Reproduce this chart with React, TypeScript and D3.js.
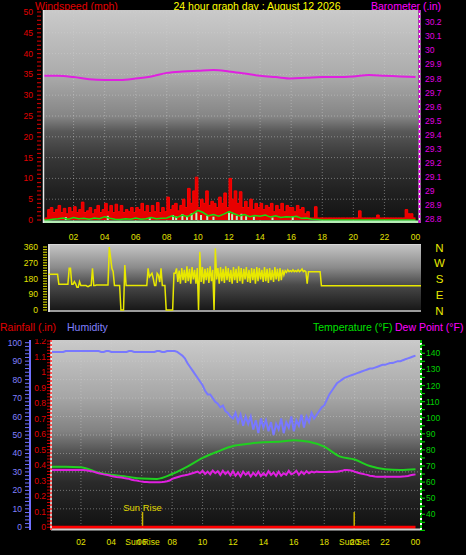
import React from "react";
import * as d3 from "d3";

const FONT = "'Liberation Sans', Arial, sans-serif";

// ---------- DATA ----------
const xTickHours = [2, 4, 6, 8, 10, 12, 14, 16, 18, 20, 22, 24];
const xTickLabels = ["02", "04", "06", "08", "10", "12", "14", "16", "18", "20", "22", "00"];

const windTicks = [0, 5, 10, 15, 20, 25, 30, 35, 40, 45, 50];
const baroTicks = [28.8, 28.9, 29.0, 29.1, 29.2, 29.3, 29.4, 29.5, 29.6, 29.7, 29.8, 29.9, 30.0, 30.1, 30.2];
const dirTicks = [0, 90, 180, 270, 360];
const compassLabels = ["N", "W", "S", "E", "N"];
const humTicks = [0, 10, 20, 30, 40, 50, 60, 70, 80, 90, 100];
const rainTicks = [0, 0.1, 0.2, 0.3, 0.4, 0.5, 0.6, 0.7, 0.8, 0.9, 1.0, 1.1, 1.2];
const tempTicks = [40, 50, 60, 70, 80, 90, 100, 110, 120, 130, 140];

// hourly barometer (inHg), hours 0..24
const barometer = [29.82, 29.82, 29.81, 29.795, 29.79, 29.79, 29.8, 29.815, 29.84, 29.85, 29.855, 29.86, 29.85,
  29.835, 29.82, 29.81, 29.8, 29.805, 29.81, 29.81, 29.815, 29.825, 29.82, 29.815, 29.81];

// wind speed (mph), every 10 minutes
const windSpeed = [
  0, 0.5, 2.5, 3, 1.8, 2.5,
  3.5, 1.8, 2.8, 1.5, 3, 2,
  3.2, 1.8, 2.5, 4.3, 1.8, 2.2,
  3, 1.5, 2.5, 3.5, 1.8, 2.5,
  4, 2, 3.5, 1.8, 3.8, 2,
  3.5, 1.8, 2.5, 2, 3, 1.8,
  3, 2.5, 4, 2, 3.5, 1.8,
  3.5, 2, 4.2, 1.8, 3, 2,
  5.5, 2.5, 3.5, 4, 2.2, 3.5,
  5, 3, 7.6, 4, 7, 10.3,
  3, 5, 4, 7, 3.5, 4.5,
  4, 3, 5.5, 4, 6.5, 3,
  10, 5, 7, 4, 6.8, 3,
  4.5, 3, 5, 2.5, 4, 3,
  4, 2.5, 3.5, 3, 4, 2,
  3.5, 2.5, 4, 2, 3.5, 3,
  3, 2, 3.5, 2.5, 3, 1.5,
  2, 0.5, 0.5, 3.2, 0.5, 0.5,
  0.5, 0.5, 0.5, 0.5, 0.5, 0.5,
  0.5, 0.5, 0.5, 0.5, 0.5, 0.5,
  0.5, 0.5, 2.2, 0.5, 0.5, 0.5,
  0.5, 0.5, 0.5, 1.2, 0.5, 0.5,
  0.5, 0.5, 0.5, 0.5, 0.5, 0.5,
  0.5, 0.5, 2.5, 1.5, 1.5, 0.5,
];

// average wind (mph), every 20 minutes
const windAvg = [
  0, 0, 0.2, 0.3, 0.5, 0.2, 0.6, 0.3, 0.4, 0.2, 0.5, 0.3,
  0.8, 0.4, 0.2, 0.1, 0.3, 0.2, 0.5, 0.2, 0.3, 0.6, 0.3, 0.4,
  0.5, 1.0, 0.6, 1.2, 0.8, 1.5, 2.3, 1.8, 1.0, 1.3, 0.9, 1.4,
  2.0, 1.5, 1.0, 1.3, 0.8, 1.1, 0.9, 1.2, 0.7, 1.0, 0.6, 0.8,
  0.7, 0.9, 0.4, 0.5, 0.2, 0.1, 0, 0, 0, 0, 0, 0,
  0, 0, 0, 0, 0, 0, 0, 0, 0, 0, 0, 0, 0,
];

// pale gust markers
const paleHours = [1.5, 4.2, 6.9, 8.4, 8.6, 9.0, 9.3, 9.6, 9.9, 10.2, 10.6, 11.0, 12.0, 12.2, 12.5, 12.8, 13.1, 13.6, 14.8, 16.1];
const paleVals = [0.7, 1.0, 0.6, 1.2, 0.8, 1.4, 1.0, 1.6, 1.8, 1.2, 1.0, 0.8, 1.8, 1.4, 1.0, 1.5, 0.9, 0.8, 0.6, 0.9];

// wind direction (deg), every 5 minutes
const windDir = [
  204, 204, 204, 204, 204, 204, 204, 204, 147, 147, 147, 147,
  147, 147, 147, 147, 238, 238, 147, 147, 162, 150, 130, 130,
  162, 140, 140, 140, 140, 140, 135, 135, 140, 140, 238, 140,
  140, 143, 143, 143, 143, 143, 143, 143, 143, 143, 143, 360,
  300, 238, 219, 140, 140, 140, 140, 140, 0, 0, 0, 257,
  140, 140, 140, 140, 140, 140, 140, 140, 140, 140, 140, 140,
  140, 140, 140, 140, 140, 238, 190, 200, 210, 180, 140, 140,
  210, 200, 160, 238, 140, 140, 140, 0, 0, 0, 0, 0,
  0, 210, 210, 238, 160, 225, 150, 240, 170, 230, 155, 250,
  165, 235, 150, 245, 175, 230, 150, 240, 0, 333, 160, 245,
  150, 235, 170, 240, 155, 250, 165, 230, 0, 352, 175, 240,
  150, 245, 165, 235, 155, 250, 170, 240, 160, 230, 150, 245,
  170, 235, 155, 250, 165, 240, 150, 235, 175, 245, 160, 230,
  155, 240, 170, 235, 150, 245, 165, 240, 175, 230, 160, 245,
  165, 235, 155, 240, 170, 230, 160, 245, 175, 235, 165, 240,
  170, 230, 200, 225, 215, 230, 219, 225, 219, 230, 219, 225,
  219, 230, 219, 225, 235, 219, 225, 219, 150, 219, 219, 219,
  219, 219, 219, 219, 219, 219, 219, 139, 139, 139, 139, 139,
  139, 139, 139, 139, 139, 139, 139, 139, 139, 139, 139, 139,
  139, 139, 139, 139, 139, 139, 139, 139, 139, 139, 139, 139,
  139, 139, 139, 139, 139, 139, 139, 139, 139, 139, 139, 139,
  139, 139, 139, 139, 139, 139, 139, 139, 139, 139, 139, 139,
  139, 139, 139, 139, 139, 139, 139, 139, 139, 139, 139, 139,
  139, 139, 139, 139, 139, 139, 139, 139, 139, 139, 139, 139,
  139,
];

// humidity (%), every 10 minutes
const humidity = [
  95, 95, 95, 95, 95, 95,
  95.5, 95.5, 95.5, 95.5, 95.5, 95.5,
  95.5, 95.5, 95.5, 95.5, 95.5, 95.5,
  95.5, 95.5, 95, 95, 95.5, 95.5,
  95, 95, 95, 95, 95, 95,
  95, 95.5, 95.5, 95, 95, 95,
  95, 95, 95, 95, 95, 95,
  95.5, 95.5, 95, 95, 95.5, 95.5,
  95.5, 95.5, 95, 94, 93, 91.5,
  89, 87, 85, 83, 81, 79,
  77, 74, 72, 72, 70, 68,
  67, 65, 66, 63, 62, 60,
  59, 62, 57, 61, 55, 60,
  56, 60, 53, 58, 51, 59,
  54, 58, 52, 57, 50, 56,
  53, 59, 51, 57, 54, 60,
  52, 58, 55, 61, 54, 60,
  57, 62, 59, 61, 63, 65,
  66, 69, 72, 74, 76, 78,
  79, 80, 81, 81.5, 82, 82.5,
  83, 83.5, 84, 84.5, 85, 85.5,
  86, 86, 86.5, 87, 87.5, 88,
  88, 88.5, 89, 89, 89.5, 90,
  90, 90.5, 91, 91.5, 92, 92.5,
  93,
];

// temperature (F), hourly
const temperature = [69.6, 69.6, 69.3, 66.3, 64.5, 63.4, 62.2, 62, 65, 69.6, 75, 79, 82.4, 83.8, 84.8, 85, 86, 85,
  82, 76, 74, 70, 68, 67.5, 68];

// dew point (F), every 10 minutes
const dewPoint = [
  67.5, 67.5, 67.5, 67.5, 67.5, 67.5,
  67.5, 67.5, 67.5, 67.5, 67.5, 67.5,
  67.5, 67.5, 67.3, 67, 66.8, 66.5,
  66, 65.5, 65.2, 64.8, 64.5, 64.2,
  63.8, 63.5, 63.2, 63, 62.8, 62.5,
  62.3, 62, 61.5, 61.2, 61, 60.6,
  60.3, 60.1, 60, 59.9, 59.9, 59.9,
  59.9, 59.9, 60, 60.2, 60.5, 61,
  62, 62.5, 63, 63.5, 64, 64.2,
  64.5, 65, 65.5, 66, 66.5, 65.5,
  67, 65, 66.5, 64.8, 67.2, 65.5,
  66.8, 64.5, 67, 65, 66.5, 64.2,
  66.8, 64, 66, 63.5, 66.5, 64.5,
  66, 63.5, 65.8, 64, 66.5, 63.8,
  65.5, 64, 66.8, 64.5, 66, 63.8,
  66.5, 64, 65.5, 64.5, 67, 64.8,
  65.5, 67, 64.5, 66.5, 65, 66.8,
  65.5, 66.5, 66, 66.5, 66.3, 66.3,
  66.3, 66.3, 66.5, 66.3, 66.5, 66.5,
  66.8, 67, 67.5, 67.5, 67.3, 67,
  66.5, 66, 65.5, 65.2, 64.8, 64.5,
  64, 63.8, 63.5, 63.4, 63.4, 63.4,
  63.4, 63.4, 63.4, 63.4, 63.4, 63.4,
  63.4, 63.5, 63.6, 63.8, 64.2, 64.5,
  64.8,
];

// rainfall (in), hours 0..24
const rainHours = [0, 24];
const rainfall = [0, 0];

const sunRise = 6.05;
const sunSet = 19.97;

// ---------- SCALES ----------
const xTop = d3.scaleLinear().domain([0, 24]).range([42.5, 415.5]);
const yWind = d3.scaleLinear().domain([0, 50]).range([220, 12]);
const yBaro = d3.scaleLinear().domain([28.8, 30.2]).range([219, 22.3]);

const xMid = d3.scaleLinear().domain([0, 24]).range([48.5, 421]);
const yDir = d3.scaleLinear().domain([0, 360]).range([310, 247]);

const xBot = d3.scaleLinear().domain([0, 24]).range([50.5, 415.5]);
const yHum = d3.scaleLinear().domain([0, 100]).range([527.3, 342.7]);
const yRain = d3.scaleLinear().domain([0, 1.2]).range([527.3, 341]);
const yTemp = d3.scaleLinear().domain([40, 140]).range([514.3, 353.3]);

const fmt = (v: number) => String(Math.round(v * 10) / 10);

export default function App() {
  const baroLine = d3.line<number>().x((_, i) => xTop(i)).y((d) => yBaro(d)).curve(d3.curveMonotoneX)(barometer) || "";
  const windExt = [...windSpeed, windSpeed[windSpeed.length - 1]];
  const windArea = d3
    .area<number>()
    .x((_, i) => xTop(i / 6))
    .y0(yWind(0))
    .y1((d) => yWind(d))
    .curve(d3.curveStepAfter)(windExt) || "";
  const windLine = d3.line<number>().x((_, i) => xTop(i / 6)).y((d) => yWind(d)).curve(d3.curveStepAfter)(windExt) || "";
  const avgLine = d3.line<number>().x((_, i) => xTop(i / 3)).y((d) => yWind(d))(windAvg) || "";
  const dirLine = d3.line<number>().x((_, i) => xMid(i / 12)).y((d) => yDir(d))(windDir) || "";
  const humLine = d3.line<number>().x((_, i) => xBot(i / 6)).y((d) => yHum(d))(humidity) || "";
  const tempLine = d3.line<number>().x((_, i) => xBot(i)).y((d) => yTemp(d)).curve(d3.curveMonotoneX)(temperature) || "";
  const dewLine = d3.line<number>().x((_, i) => xBot(i / 6)).y((d) => yTemp(d))(dewPoint) || "";
  const rainLine = d3.line<number>().x((_, i) => xBot(rainHours[i])).y((d) => yRain(d))(rainfall) || "";

  const gridHours = d3.range(2, 24, 2);
  const windMinor = d3.range(0, 51, 1);
  const dirMinor = d3.range(0, 361, 15);
  const humMinor = d3.range(0, 101, 2);
  const rainMinor = d3.range(0, 1.201, 0.02);
  const tempMinor = d3.range(30, 150, 5);

  return (
    <svg width={466} height={555} style={{ display: "block", position: "absolute", left: 0, top: 0, background: "#000" }}
      fontFamily={FONT}>
      <defs>
        <linearGradient id="gTop" x1="0" y1="0" x2="0" y2="1">
          <stop offset="0" stopColor="#cacaca" />
          <stop offset="0.3" stopColor="#acacac" />
          <stop offset="0.5" stopColor="#858585" />
          <stop offset="0.57" stopColor="#585858" />
          <stop offset="0.7" stopColor="#363636" />
          <stop offset="0.85" stopColor="#212121" />
          <stop offset="1" stopColor="#111111" />
        </linearGradient>
        <linearGradient id="gMid" x1="0" y1="0" x2="0" y2="1">
          <stop offset="0" stopColor="#c6c6c6" />
          <stop offset="0.35" stopColor="#8a8a8a" />
          <stop offset="0.6" stopColor="#4a4a4a" />
          <stop offset="1" stopColor="#141414" />
        </linearGradient>
        <linearGradient id="gBot" x1="0" y1="0" x2="0" y2="1">
          <stop offset="0" stopColor="#cacaca" />
          <stop offset="0.3" stopColor="#a6a6a6" />
          <stop offset="0.48" stopColor="#828282" />
          <stop offset="0.6" stopColor="#4e4e4e" />
          <stop offset="0.75" stopColor="#2a2a2a" />
          <stop offset="1" stopColor="#101010" />
        </linearGradient>
        <clipPath id="clipTop"><rect x={43} y={10} width={375} height={213} /></clipPath>
        <clipPath id="clipMid"><rect x={48} y={244} width={373} height={68} /></clipPath>
        <clipPath id="clipBot"><rect x={51} y={340} width={369} height={190} /></clipPath>
        <clipPath id="clipRainLbl"><rect x={0} y={339} width={60} height={200} /></clipPath>
      </defs>

      {/* ---------- TITLES ---------- */}
      <text x={35} y={10} fontSize={10.5} fill="#e00000">Windspeed (mph)</text>
      <text x={257} y={10} fontSize={10.5} fill="#ffff00" textAnchor="middle">24 hour graph day : August 12 2026</text>
      <text x={371} y={10} fontSize={10.5} fill="#ff00ff">Barometer (.in)</text>

      {/* ---------- TOP PANEL ---------- */}
      <rect x={43} y={10} width={375} height={213} fill="url(#gTop)" />
      <g clipPath="url(#clipTop)">
        {windTicks.slice(1).map((v) => (
          <line key={"hw" + v} x1={43} x2={418} y1={yWind(v)} y2={yWind(v)} stroke="#d0d0d0" strokeOpacity={0.45} strokeDasharray="1,2" />
        ))}
        {gridHours.map((h) => (
          <line key={"vt" + h} x1={xTop(h)} x2={xTop(h)} y1={10} y2={223} stroke="#d0d0d0" strokeOpacity={0.45} strokeDasharray="1,2" />
        ))}
        <path d={baroLine} fill="none" stroke="#e020e0" strokeWidth={2} />
        <path d={windArea} fill="#e80000" />
        <path d={windLine} fill="none" stroke="#ff0000" strokeWidth={1} />
        {paleHours.map((h, i) => (
          <rect key={"pg" + i} x={xTop(h) - 1} y={yWind(paleVals[i])} width={2} height={yWind(0) - yWind(paleVals[i])} fill="#c0ecc0" />
        ))}
        <path d={avgLine} fill="none" stroke="#10e010" strokeWidth={1.5} />
        <rect x={43} y={220.5} width={375} height={3} fill="#b4ecb4" />
      </g>
      <line x1={43.5} x2={43.5} y1={10} y2={223} stroke="#e8e8e8" strokeWidth={1.5} />
      {/* left wind axis */}
      {windMinor.map((v) => (
        <line key={"wm" + v} x1={37} x2={41} y1={yWind(v)} y2={yWind(v)} stroke="#c00000" strokeWidth={1.2} />
      ))}
      {windTicks.map((v) => (
        <text key={"wl" + v} x={33} y={yWind(v) + 3} fontSize={8.5} fill="#e00000" textAnchor="end">{v}</text>
      ))}
      {/* right baro axis */}
      <line x1={419.5} x2={419.5} y1={10} y2={223} stroke="#ffffff" strokeWidth={2} />
      <line x1={419.5} x2={419.5} y1={10} y2={223} stroke="#e000e0" strokeWidth={2} strokeDasharray="3,2" />
      {baroTicks.map((v) => (
        <text key={"bl" + v} x={425} y={yBaro(v) + 3} fontSize={8.5} fill="#e000e0">{fmt(v)}</text>
      ))}
      {/* x labels top */}
      {xTickHours.map((h, i) => (
        <text key={"xt" + h} x={xTop(h)} y={240} fontSize={8.5} fill="#e0e000" textAnchor="middle">{xTickLabels[i]}</text>
      ))}

      {/* ---------- MIDDLE PANEL ---------- */}
      <rect x={48} y={244} width={373} height={68} fill="url(#gMid)" />
      <line x1={48} x2={421} y1={244.5} y2={244.5} stroke="#d8d8d8" />
      <line x1={48} x2={421} y1={311} y2={311} stroke="#c8c8c8" strokeWidth={1.5} />
      <line x1={49} x2={49} y1={244} y2={312} stroke="#dcdcdc" strokeWidth={2} />
      <g clipPath="url(#clipMid)">
        <path d={dirLine} fill="none" stroke="#e8e800" strokeWidth={1.5} />
      </g>
      {dirMinor.map((v) => (
        <line key={"dm" + v} x1={43} x2={47} y1={yDir(v)} y2={yDir(v)} stroke="#c8c800" strokeWidth={1.2} />
      ))}
      {dirTicks.map((v) => (
        <text key={"dl" + v} x={38} y={yDir(v) + 3} fontSize={8.5} fill="#e0e000" textAnchor="end">{v}</text>
      ))}
      {compassLabels.map((c, i) => (
        <text key={"cl" + i} x={439.5} y={yDir(dirTicks[4 - i]) + 4.5} fontSize={11.5} fill="#e8e800" textAnchor="middle">{c}</text>
      ))}

      {/* ---------- BOTTOM LEGEND ---------- */}
      <text x={0} y={331} fontSize={10.5} fill="#e00000">Rainfall (.in)</text>
      <text x={67} y={331} fontSize={10.5} fill="#8080ff">Humidity</text>
      <text x={313} y={331} fontSize={10.5} fill="#00e000">Temperature (°F)</text>
      <text x={395} y={331} fontSize={10.5} fill="#ff00ff">Dew Point (°F)</text>

      {/* ---------- BOTTOM PANEL ---------- */}
      <rect x={51} y={340} width={369} height={190} fill="url(#gBot)" />
      <g clipPath="url(#clipBot)">
        {humTicks.slice(1).map((v) => (
          <line key={"hb" + v} x1={51} x2={420} y1={yHum(v)} y2={yHum(v)} stroke="#d0d0d0" strokeOpacity={0.45} strokeDasharray="1,2" />
        ))}
        {gridHours.map((h) => (
          <line key={"vb" + h} x1={xBot(h)} x2={xBot(h)} y1={340} y2={530} stroke="#d0d0d0" strokeOpacity={0.45} strokeDasharray="1,2" />
        ))}
        <line x1={xBot(sunRise)} x2={xBot(sunRise)} y1={512} y2={530} stroke="#c8b400" strokeWidth={1.5} />
        <line x1={xBot(sunSet)} x2={xBot(sunSet)} y1={512} y2={530} stroke="#c8b400" strokeWidth={1.5} />
        <path d={humLine} fill="none" stroke="#7878ff" strokeWidth={2} />
        <path d={tempLine} fill="none" stroke="#20d020" strokeWidth={2} />
        <path d={dewLine} fill="none" stroke="#e020e0" strokeWidth={2} />
        <path d={rainLine} fill="none" stroke="#ff0000" strokeWidth={3} />
      </g>
      <rect x={51} y={528.5} width={369} height={2} fill="#d0d0d0" />
      <text x={xBot(sunRise)} y={511} fontSize={9.5} fill="#e0d800" textAnchor="middle">Sun Rise</text>

      {/* humidity axis */}
      <line x1={30} x2={30} y1={340} y2={530} stroke="#7070ff" strokeWidth={2} />
      {humMinor.map((v) => (
        <line key={"hm" + v} x1={25} x2={29} y1={yHum(v)} y2={yHum(v)} stroke="#7070ff" strokeWidth={1} />
      ))}
      {humTicks.map((v) => (
        <text key={"hl" + v} x={22} y={yHum(v) + 3} fontSize={8.5} fill="#8080ff" textAnchor="end">{v}</text>
      ))}
      {/* rain axis */}
      <line x1={51} x2={51} y1={340} y2={530} stroke="#ffffff" strokeWidth={1.5} />
      <line x1={51} x2={51} y1={340} y2={530} stroke="#ff2020" strokeWidth={1.5} strokeDasharray="2,2" />
      {rainMinor.map((v, i) => (
        <line key={"rm" + i} x1={47} x2={50} y1={yRain(v)} y2={yRain(v)} stroke="#d00000" strokeWidth={1} />
      ))}
      <g clipPath="url(#clipRainLbl)">
        {rainTicks.map((v) => (
          <text key={"rl" + v} x={46} y={yRain(v) + 3} fontSize={8.5} fill="#e00000" textAnchor="end">{fmt(v)}</text>
        ))}
      </g>
      {/* temp axis */}
      <line x1={421} x2={421} y1={340} y2={531} stroke="#ffffff" strokeWidth={2} />
      <line x1={421} x2={421} y1={340} y2={531} stroke="#00c000" strokeWidth={2} strokeDasharray="3,2" />
      {tempMinor.map((v) => (
        <line key={"tm" + v} x1={421} x2={425} y1={yTemp(v)} y2={yTemp(v)} stroke="#00c000" strokeWidth={1.2} />
      ))}
      {tempTicks.map((v) => (
        <text key={"tl" + v} x={426} y={yTemp(v) + 3} fontSize={8.5} fill="#00d000">{v}</text>
      ))}
      {/* x labels bottom */}
      {xTickHours.map((h, i) => (
        <text key={"xb" + h} x={xBot(h)} y={545} fontSize={8.5} fill="#e0e000" textAnchor="middle">{xTickLabels[i]}</text>
      ))}
      <text x={xBot(sunRise)} y={545} fontSize={8.5} fill="#e0e000" textAnchor="middle">Sun Rise</text>
      <text x={xBot(sunSet)} y={545} fontSize={8.5} fill="#e0e000" textAnchor="middle">Sun Set</text>
    </svg>
  );
}
